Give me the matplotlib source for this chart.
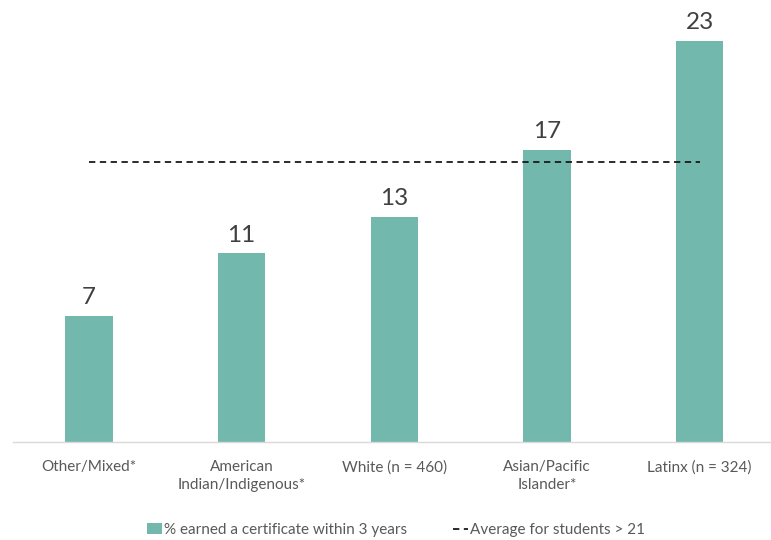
import matplotlib.pyplot as plt
import numpy as np

plt.rcParams['font.family'] = ['Lato', 'DejaVu Sans']

categories = ["Other/Mixed*", "American\nIndian/Indigenous*", "White (n = 460)",
              "Asian/Pacific\nIslander*", "Latinx (n = 324)"]
pct_certificate = [7.3, 10.9, 13.0, 16.9, 23.2]
avg_over_21 = [16.2, 16.2, 16.2, 16.2, 16.2]

bar_color = "#72B8AD"
text_color = "#404040"
tick_color = "#595959"

fig = plt.figure(figsize=(7.71, 5.40), dpi=100)
ax = fig.add_axes([12.5 / 771, 1 - 442 / 540, 763.5 / 771, 432.5 / 540])

x = np.arange(len(categories))
bars = ax.bar(x, pct_certificate, width=0.31, color=bar_color,
              label="% earned a certificate within 3 years", zorder=2)
line, = ax.plot(x, avg_over_21, color="#1a1a1a", linestyle=(0, (3.5, 2.5)), linewidth=1.3,
                label="Average for students > 21", zorder=3)

for xi, v in zip(x, pct_certificate):
    ax.text(xi, v + 0.45, "%.0f" % v, ha="center", va="bottom",
            fontsize=17.5, color=text_color)

ax.set_xlim(-0.5, 4.5)
ax.set_ylim(0, 25)
ax.set_yticks([])
ax.set_xticks(x)
ax.set_xticklabels(categories, fontsize=11, color=tick_color, linespacing=1.4)
ax.tick_params(axis="x", length=0, pad=13)

for side in ["top", "right", "left"]:
    ax.spines[side].set_visible(False)
ax.spines["bottom"].set_color("#D9D9D9")
ax.spines["bottom"].set_linewidth(1)

fig.legend([bars, line], [bars.get_label(), line.get_label()], loc="center",
           bbox_to_anchor=(396 / 771, 1 - 530 / 540),
           ncol=2, frameon=False, fontsize=11, labelcolor=tick_color,
           handlelength=1.0, handletextpad=0.1, columnspacing=3.0)

fig.savefig("out.png", dpi=100)
